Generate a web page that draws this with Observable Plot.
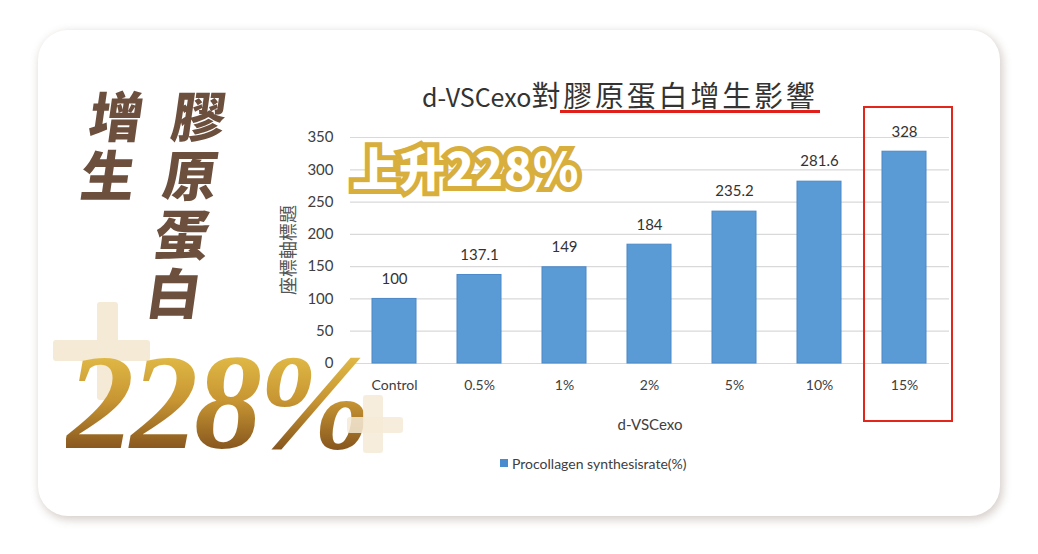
<!DOCTYPE html>
<html><head><meta charset="utf-8">
<script src="https://cdn.jsdelivr.net/npm/d3@7"></script>
<script src="https://cdn.jsdelivr.net/npm/@observablehq/plot@0.6"></script>
<style>
html,body{margin:0;padding:0;width:1038px;height:554px;overflow:hidden;background:#fff;}
#stage{position:relative;width:1038px;height:554px;}
.abs{position:absolute;white-space:nowrap;}
#card{left:38px;top:30px;width:962px;height:486px;background:#fff;border-radius:30px;box-shadow:2px 3px 9px 1px rgba(130,110,95,0.32);}
#chart{left:0;top:0;}
.cjk{font-family:"Noto Sans CJK TC","Noto Sans CJK SC",sans-serif;}
.brown{color:#6d4f3e;font-weight:900;font-size:54px;line-height:59px;transform:skewX(-8deg);}
.plus{position:absolute;background:#f5ead6;border-radius:3px;}
#big{left:66px;top:356px;height:96px;font-family:"Liberation Serif",serif;font-style:italic;font-weight:bold;font-size:136px;line-height:92px;letter-spacing:-4px;
 background:linear-gradient(to bottom,#e0b945 0%,#c79532 45%,#7e4e1c 100%);-webkit-background-clip:text;background-clip:text;color:transparent;padding-bottom:4px;}
.rise{left:352px;top:140px;font-size:46px;font-weight:900;line-height:52px;letter-spacing:1px;}
#title{left:422px;top:76px;font-size:25px;color:#333;line-height:36px;}
#uline{left:560px;top:110px;width:260px;height:3px;background:#e0201a;}
#redbox{left:863px;top:106px;width:86px;height:312px;border:2.5px solid #e3261b;}
.lab{font-family:Lato,"Noto Sans",sans-serif;color:#404040;}
</style></head>
<body><div id="stage">
<div id="card" class="abs"></div>
<div id="chart" class="abs"></div>
<div class="abs cjk brown" style="left:86px;top:84px;">增<br>生</div>
<div class="abs cjk brown" style="left:160px;top:84px;">膠<br>原<br>蛋<br>白</div>
<div class="plus" style="left:97px;top:302px;width:21px;height:98px;"></div>
<div class="plus" style="left:53px;top:340px;width:97px;height:21px;"></div>
<div id="big" class="abs">228%</div>
<div class="plus" style="left:363px;top:395px;width:20px;height:58px;opacity:0.85;"></div>
<div class="plus" style="left:347px;top:417px;width:56px;height:16px;opacity:0.85;"></div>
<div class="abs cjk rise" style="-webkit-text-stroke:10px #d8ae3c;color:#d8ae3c;">上升228%</div>
<div class="abs cjk rise" style="color:#fff;">上升228%</div>
<div id="title" class="abs cjk">d-VSCexo<span style="font-size:29px;letter-spacing:2.8px;">對膠原蛋白增生影響</span></div>
<div id="uline" class="abs"></div>
<div id="redbox" class="abs"></div>
<div class="abs cjk" style="left:287px;top:250px;transform:translate(-50%,-50%) rotate(-90deg);font-size:18px;color:#555;">座標軸標題</div>
<div class="abs lab" style="left:650px;top:424px;transform:translate(-50%,-50%);font-size:15px;">d-VSCexo</div>
<div class="abs" style="left:500px;top:459px;width:8px;height:8px;background:#4a8bd0;"></div>
<div class="abs lab" style="left:512px;top:463px;transform:translateY(-50%);font-size:14px;">Procollagen synthesisrate(%)</div>
</div>
<script>
const categories = ["Control","0.5%","1%","2%","5%","10%","15%"];
const values = [100,137.1,149,184,235.2,281.6,328];
const valueLabels = ["100","137.1","149","184","235.2","281.6","328"];
const yTicks = [0,50,100,150,200,250,300,350];
const data = categories.map((c,i)=>({cat:c,val:values[i],lab:valueLabels[i]}));
const chart = Plot.plot({
  width:1038,height:554,
  marginLeft:350,marginRight:89,marginTop:137,marginBottom:191,
  x:{domain:categories,paddingInner:0.48,paddingOuter:0.24,label:null},
  y:{domain:[0,350],label:null},
  style:{background:"transparent",fontFamily:"Lato, 'Noto Sans', sans-serif",fontSize:"15px",color:"#404040"},
  marks:[
    Plot.gridY(yTicks,{stroke:"#d9d9d9",strokeOpacity:1,strokeWidth:1.2}),
    Plot.axisY(yTicks,{tickSize:0,tickPadding:17,label:null,fontSize:15}),
    Plot.axisX({tickSize:0,tickPadding:17,label:null,fontSize:14}),
    Plot.barY(data,{x:"cat",y:"val",fill:"#5b9bd5",stroke:"#4a88c8",strokeWidth:1}),
    Plot.text(data,{x:"cat",y:"val",text:"lab",dy:-20,fontSize:15,fill:"#333"})
  ]
});
document.getElementById("chart").appendChild(chart);
</script>
</body></html>
